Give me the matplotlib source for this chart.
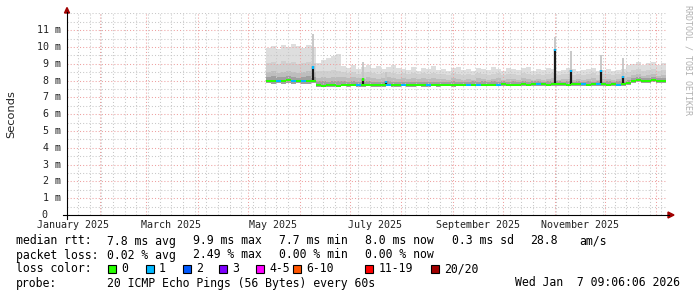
import matplotlib
matplotlib.use("Agg")
import matplotlib.pyplot as plt
import matplotlib.dates as mdates
from matplotlib.lines import Line2D
from matplotlib.patches import Polygon, Rectangle
from datetime import datetime, timedelta

# ---------------- data ----------------
t_start = datetime(2025, 1, 12, 9, 6, 6)
t_end = datetime(2026, 1, 7, 9, 6, 6)
data_start = datetime(2025, 5, 12)
step_days = 3

# median rtt per 3-day step (ms)
median = [8.00, 8.00, 7.98, 8.00, 8.01, 8.00, 7.99, 8.00, 8.00, 7.98,
          7.72, 7.70, 7.71, 7.72, 7.70,
          7.74, 7.73, 7.72, 7.74, 7.73, 7.72, 7.73, 7.74, 7.72, 7.73,
          7.72, 7.73, 7.74, 7.72, 7.73, 7.74, 7.73, 7.72, 7.73, 7.74,
          7.75, 7.74, 7.73, 7.75, 7.74, 7.75, 7.76, 7.74, 7.75, 7.76,
          7.75, 7.76, 7.77, 7.76, 7.75, 7.76, 7.77, 7.76, 7.77, 7.78,
          7.77, 7.76, 7.77, 7.78, 7.77, 7.76, 7.77, 7.78, 7.77, 7.76,
          7.77, 7.78, 7.77, 7.76, 7.77, 7.76, 7.77,
          7.85,
          8.00, 8.02, 8.00, 7.99, 8.01, 8.00, 8.00]

# smoke: outer top
smoke_top = [9.95, 10.05, 9.90, 10.10, 10.00, 10.15, 10.05, 9.95, 10.10, 10.00,
             9.05, 9.25, 9.35, 9.45, 9.60,
             8.85, 8.75, 8.90, 8.70, 8.80, 8.95, 8.75, 8.85, 8.70, 8.80,
             8.90, 8.75, 8.70, 8.65, 8.80, 8.60, 8.75, 8.70, 8.85, 8.65,
             8.70, 8.60, 8.75, 8.80, 8.65, 8.70, 8.60, 8.75, 8.70, 8.65,
             8.80, 8.70, 8.60, 8.75, 8.70, 8.65, 8.75, 8.80, 8.60, 8.70,
             8.65, 8.75, 8.70, 8.60, 8.65, 8.75, 8.70, 8.60, 8.65, 8.70,
             8.75, 8.60, 8.65, 8.70, 8.60, 8.65, 8.70,
             8.90,
             9.00, 9.10, 8.95, 9.05, 9.10, 8.95, 9.05]

smoke_l2 = [9.05, 9.10, 9.00, 9.15, 9.05, 9.10, 9.00, 9.05, 9.10, 9.05,
            8.55, 8.60, 8.55, 8.65, 8.60,
            8.50, 8.45, 8.50, 8.40, 8.45, 8.50, 8.45, 8.40, 8.45, 8.50,
            8.45, 8.40, 8.45, 8.40, 8.45, 8.40, 8.45, 8.40, 8.45, 8.40,
            8.40, 8.35, 8.45, 8.40, 8.35, 8.40, 8.35, 8.45, 8.40, 8.35,
            8.40, 8.45, 8.35, 8.40, 8.40, 8.35, 8.45, 8.40, 8.35, 8.40,
            8.35, 8.40, 8.45, 8.35, 8.40, 8.40, 8.35, 8.40, 8.35, 8.40,
            8.45, 8.35, 8.40, 8.40, 8.35, 8.40, 8.45,
            8.50,
            8.65, 8.70, 8.60, 8.65, 8.70, 8.60, 8.65]

smoke_l3 = [8.50, 8.55, 8.45, 8.50, 8.55, 8.50, 8.45, 8.50, 8.55, 8.50,
            8.15, 8.20, 8.15, 8.20, 8.20,
            8.20, 8.15, 8.20, 8.15, 8.10, 8.20, 8.15, 8.10, 8.15, 8.20,
            8.15, 8.10, 8.15, 8.10, 8.15, 8.10, 8.15, 8.10, 8.15, 8.10,
            8.10, 8.05, 8.15, 8.10, 8.05, 8.10, 8.05, 8.15, 8.10, 8.05,
            8.10, 8.15, 8.05, 8.10, 8.10, 8.05, 8.15, 8.10, 8.05, 8.10,
            8.05, 8.10, 8.15, 8.05, 8.10, 8.10, 8.05, 8.10, 8.05, 8.10,
            8.15, 8.05, 8.10, 8.10, 8.05, 8.10, 8.15,
            8.20,
            8.35, 8.40, 8.30, 8.35, 8.40, 8.30, 8.35]

smoke_l4 = [8.20, 8.25, 8.20, 8.20, 8.25, 8.20, 8.15, 8.20, 8.25, 8.20,
            7.95, 7.95, 7.90, 7.95, 7.95,
            7.95, 7.92, 7.95, 7.90, 7.92, 7.95, 7.92, 7.90, 7.92, 7.95,
            7.92, 7.90, 7.92, 7.90, 7.92, 7.90, 7.92, 7.90, 7.92, 7.90,
            7.92, 7.90, 7.95, 7.92, 7.90, 7.92, 7.95, 7.92, 7.95, 7.92,
            7.95, 7.92, 7.95, 7.92, 7.95, 7.92, 7.95, 7.92, 7.95, 7.95,
            7.92, 7.95, 7.92, 7.95, 7.92, 7.95, 7.92, 7.95, 7.92, 7.95,
            7.92, 7.95, 7.92, 7.95, 7.92, 7.95, 7.92,
            8.05,
            8.15, 8.20, 8.15, 8.15, 8.20, 8.15, 8.15]

smoke_bottom = [7.85, 7.82, 7.85, 7.80, 7.85, 7.82, 7.85, 7.82, 7.80, 7.85,
                7.62, 7.60, 7.62, 7.60, 7.62,
                7.65, 7.62, 7.65, 7.62, 7.63, 7.65, 7.62, 7.63, 7.62, 7.65,
                7.62, 7.63, 7.65, 7.62, 7.63, 7.65, 7.62, 7.63, 7.65, 7.64,
                7.66, 7.65, 7.64, 7.66, 7.65, 7.66, 7.67, 7.65, 7.66, 7.67,
                7.66, 7.67, 7.68, 7.67, 7.66, 7.67, 7.68, 7.67, 7.68, 7.69,
                7.68, 7.67, 7.68, 7.69, 7.68, 7.67, 7.68, 7.69, 7.68, 7.67,
                7.68, 7.69, 7.68, 7.67, 7.68, 7.67, 7.68,
                7.72,
                7.88, 7.90, 7.88, 7.87, 7.89, 7.88, 7.88]

# lost pings per step (0 or 1 of 20)
loss = [0, 0, 1, 0, 0, 1, 0, 1, 0, 0,
        0, 0, 0, 0, 0,
        0, 0, 0, 1, 0, 0, 0, 0, 0, 1,
        0, 0, 1, 0, 0, 0, 0, 1, 0, 0,
        0, 0, 0, 0, 0, 1, 0, 1, 0, 0,
        0, 1, 0, 0, 0, 0, 0, 0, 0, 1,
        0, 0, 0, 0, 0, 0, 0, 0, 1, 0,
        0, 1, 0, 0, 0, 1, 0, 0, 0, 0,
        0, 0, 0, 0, 0]

# spikes
spike_dates = ["2025-06-09", "2025-07-09", "2025-07-23", "2025-11-01",
               "2025-11-11", "2025-11-29", "2025-12-12"]
spike_base = [7.98, 7.74, 7.73, 7.77, 7.77, 7.77, 7.76]
spike_peak = [8.85, 8.15, 8.00, 9.90, 8.65, 8.65, 8.30]
spike_smoke = [10.8, 9.10, 8.50, 10.6, 9.75, 9.50, 9.35]
spike_loss = [1, 0, 1, 1, 1, 1, 1]

y_ticks = [0, 1, 2, 3, 4, 5, 6, 7, 8, 9, 10, 11]
y_tick_labels = ["0", "1 m", "2 m", "3 m", "4 m", "5 m", "6 m", "7 m",
                 "8 m", "9 m", "10 m", "11 m"]
x_label_dates = ["2025-01-01", "2025-03-01", "2025-05-01", "2025-07-01",
                 "2025-09-01", "2025-11-01"]
x_labels = ["January 2025", "March 2025", "May 2025", "July 2025",
            "September 2025", "November 2025"]

loss_colors = ["#26ff00", "#00b8ff", "#0059ff", "#7e00ff", "#ff00ff",
               "#ff5500", "#ff0000", "#a10000"]
loss_names = ["0", "1", "2", "3", "4-5", "6-10", "11-19", "20/20"]

rtt_items = ["median rtt:", "7.8 ms avg", "9.9 ms max", "7.7 ms min",
             "8.0 ms now", "0.3 ms sd", "28.8", "am/s"]
loss_items = ["packet loss:", "0.02 % avg", "2.49 % max", "0.00 % min",
              "0.00 % now"]
probe_items = ["probe:", "20 ICMP Echo Pings (56 Bytes) every 60s"]
stamp = "Wed Jan  7 09:06:06 2026"

assert len(median) == len(smoke_top) == len(smoke_l2) == len(smoke_l3) == \
    len(smoke_l4) == len(smoke_bottom) == len(loss) == 80

# ---------------- figure ----------------
W, H = 697, 297
fig = plt.figure(figsize=(W / 100, H / 100), dpi=100)
fig.patch.set_facecolor("white")
X0, X1 = 67, 667
Y0, Y1 = 215, 13.4
ax = fig.add_axes([X0 / W, (H - Y0) / H, (X1 - X0) / W, (Y0 - Y1) / H])
xs, xe = mdates.date2num(t_start), mdates.date2num(t_end)
ax.set_xlim(xs, xe)
ax.set_ylim(0, 12)
ax.set_axis_off()

MONO = "DejaVu Sans Mono"

def fp(x, y):
    return (x / W, 1 - y / H)

# steps
edges = [mdates.date2num(data_start + timedelta(days=step_days * i))
         for i in range(len(median) + 1)]
edges[-1] = min(edges[-1], xe)

def ext(a):
    return list(a) + [a[-1]]

ax.fill_between(edges, ext(smoke_bottom), ext(smoke_top), step="post",
                color="#dedede", lw=0, zorder=2)
ax.fill_between(edges, ext(smoke_bottom), ext(smoke_l2), step="post",
                color="#d0d0d0", lw=0, zorder=2)
ax.fill_between(edges, ext(smoke_bottom), ext(smoke_l3), step="post",
                color="#bdbdbd", lw=0, zorder=2)
ax.fill_between(edges, ext(smoke_bottom), ext(smoke_l4), step="post",
                color="#a0a0a0", lw=0, zorder=2)

# grid
minor_c = "#c8c8c8"
major_c = "#eea0a0"
ls = (0, (1, 2))
for k in range(1, 25):
    v = k * 0.5
    if k % 2 == 1 or v == 12:
        ax.axhline(v, color=minor_c, lw=0.75, ls=ls, zorder=3)
for v in y_ticks[1:]:
    ax.axhline(v, color=major_c, lw=0.75, ls=ls, zorder=3)

d = datetime(2025, 1, 12)
while d < t_end:
    if d.weekday() == 6 and d > t_start and d.day != 1:
        ax.axvline(mdates.date2num(d), color=minor_c, lw=0.75, ls=ls, zorder=3)
    d += timedelta(days=1)
for m in range(2, 14):
    yy = 2025 + (m - 1) // 12
    mm = (m - 1) % 12 + 1
    dd = datetime(yy, mm, 1)
    if dd < t_end:
        ax.axvline(mdates.date2num(dd), color=major_c, lw=0.75, ls=ls, zorder=3)

# spikes
for ds, b, p, s, l in zip(spike_dates, spike_base, spike_peak, spike_smoke, spike_loss):
    xd = mdates.date2num(datetime.fromisoformat(ds))
    ax.vlines(xd, b, s, color="#c4c4c4", lw=1.3, zorder=4)
    ax.vlines(xd, b, p, color="#1a1a1a", lw=1.6, zorder=5)
    ax.vlines(xd, p - 0.15, p, color=loss_colors[l], lw=1.6, zorder=6)

# median line
for i, (mv, lv) in enumerate(zip(median, loss)):
    ax.hlines(mv, edges[i], edges[i + 1], color=loss_colors[lv], lw=1.45,
              zorder=6)

# axes lines and arrows
fig.add_artist(Line2D([63 / W, 669 / W], [1 - 215 / H, 1 - 215 / H],
                      color="black", lw=0.8))
fig.add_artist(Line2D([67 / W, 67 / W], [1 - 219 / H, 1 - 12 / H],
                      color="black", lw=0.8))
fig.add_artist(Polygon([fp(668, 212), fp(668, 218), fp(674, 215)],
                       closed=True, color="#a00000", transform=fig.transFigure))
fig.add_artist(Polygon([fp(64.5, 13), fp(69.5, 13), fp(67, 7.5)],
                       closed=True, color="#a00000", transform=fig.transFigure))

# y tick labels
for v, lab in zip(y_ticks, y_tick_labels):
    ypx = Y0 - v * (Y0 - Y1) / 12
    xr = 61 if lab != "0" else 47
    fig.text(xr / W, 1 - ypx / H, lab, ha="right", va="center",
             family=MONO, fontsize=7.2, color="#222222")

# x labels
for ds, lab in zip(x_label_dates, x_labels):
    xd = mdates.date2num(datetime.fromisoformat(ds) + timedelta(days=15))
    xpx = X0 + (xd - xs) / (xe - xs) * (X1 - X0)
    fig.text(xpx / W, 1 - 224.5 / H, lab, ha="center", va="center",
             family=MONO, fontsize=7.2, color="#222222")

fig.text(11 / W, 1 - 114 / H, "Seconds", rotation=90, ha="center", va="center",
         family="DejaVu Sans", fontsize=8.2, color="#222222")
fig.text(688 / W, 1 - 5 / H, "RRDTOOL / TOBI OETIKER", rotation=270,
         ha="center", va="top", family=MONO, fontsize=6, color="#b0b0b0")

LS = 8.3
rtt_x = [16, 107.3, 193.3, 279.3, 365, 451.7, 530, 579.3]
for t, x in zip(rtt_items, rtt_x):
    fig.text(x / W, 1 - 241 / H, t, ha="left", va="center", family=MONO,
             fontsize=LS, color="black")
loss_x = [16, 107.3, 193.3, 279.3, 365]
for t, x in zip(loss_items, loss_x):
    fig.text(x / W, 1 - 255 / H, t, ha="left", va="center", family=MONO,
             fontsize=LS, color="black")
fig.text(16 / W, 1 - 269 / H, "loss color:", ha="left", va="center",
         family=MONO, fontsize=LS, color="black")
box_x = [108, 145.5, 182.5, 219, 256, 293, 365, 430.5]
for c, n, bx in zip(loss_colors, loss_names, box_x):
    fig.add_artist(Rectangle(fp(bx, 273), 8 / W, 8 / H, facecolor=c,
                             edgecolor="black", lw=0.8, transform=fig.transFigure))
    fig.text((bx + 13.5) / W, 1 - 269 / H, n, ha="left", va="center",
             family=MONO, fontsize=LS, color="black")
probe_x = [16, 107.3]
for t, x in zip(probe_items, probe_x):
    fig.text(x / W, 1 - 283 / H, t, ha="left", va="center", family=MONO,
             fontsize=LS, color="black")
fig.text(680 / W, 1 - 283 / H, stamp, ha="right", va="center", family=MONO,
         fontsize=LS, color="black")

fig.savefig("out.png", dpi=100, facecolor="white")
